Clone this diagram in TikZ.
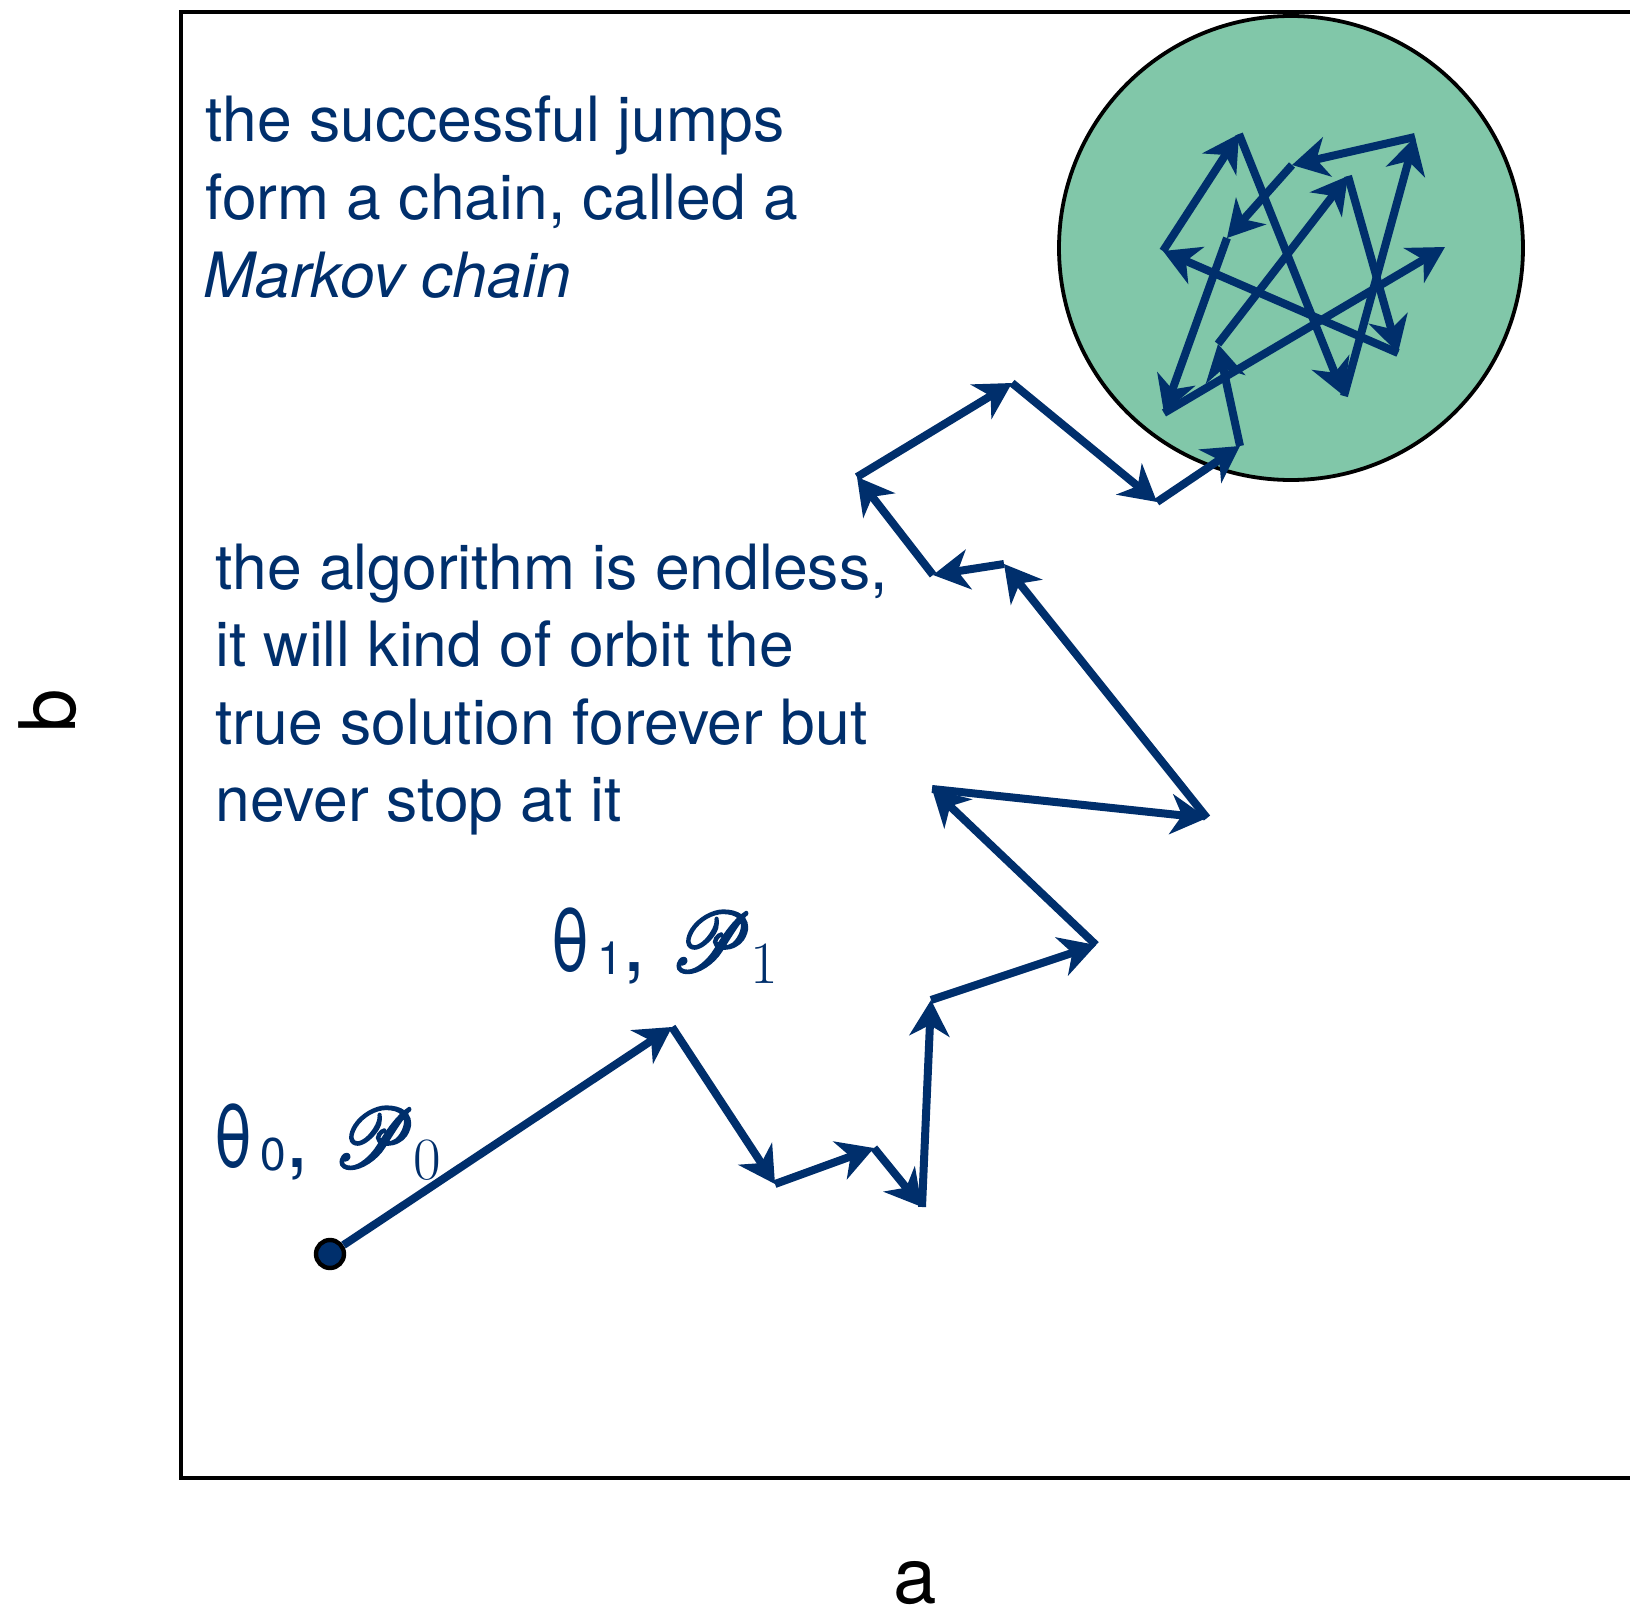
\documentclass[tikz,border=0pt]{standalone}
\usepackage{graphicx}
\usepackage[no-math]{fontspec}
\newfontfamily\hel{TeX Gyre Heros}
\DeclareFontFamily{U}{rsfsx}{\skewchar\font127 }
\DeclareFontShape{U}{rsfsx}{m}{n}{<-> rsfs10}{}
\newcommand\scrP{\scalebox{0.88}[1]{\fontencoding{U}\fontfamily{rsfsx}\fontseries{m}\fontshape{n}\fontsize{42pt}{48pt}\selectfont\special{pdf:literal direct 2 Tr 1.4 w 1 j}P\special{pdf:literal direct 0 Tr 0.4 w}}}
\newcommand\thet{\scalebox{0.8}[1]{θ}}
\newcommand\rmsub[1]{\hspace{2.5pt}\raisebox{-6pt}{\rmfamily\fontsize{30pt}{34pt}\selectfont #1}}
\newcommand\sfsub[1]{\hspace{3.5pt}\raisebox{-1.5pt}{\fontsize{23pt}{26pt}\selectfont #1}}
\usetikzlibrary{arrows.meta}
\definecolor{mcnavy}{RGB}{0,47,108}
\definecolor{mczone}{RGB}{129,199,169}
\begin{document}
\begin{tikzpicture}[x=0.5pt,y=-0.5pt,
  jump/.style={draw=mcnavy, line width=4pt, -{Stealth[length=18pt,width=20pt,inset=5.5pt]}},
  note/.style={text=mcnavy, font=\hel\fontsize{31.2pt}{37pt}\selectfont, anchor=base west, inner sep=0pt},
  axislbl/.style={text=black, font=\hel\fontsize{39pt}{46pt}\selectfont, inner sep=0pt},
  statelbl/.style={text=mcnavy, font=\hel\fontsize{43pt}{50pt}\selectfont, anchor=base west, inner sep=0pt},
  startdot/.style={circle, draw=black, fill=mcnavy, line width=2.2pt, minimum size=14pt, inner sep=0pt},
  zonestyle/.style={circle, draw=black, fill=mczone, line width=1.9pt, minimum size=232pt, inner sep=0pt}
]
\useasboundingbox (0,0) rectangle (1630,1611);
\fill[white] (0,0) rectangle (1630,1611);
\draw[line width=1.9pt] (181,12) rectangle (1660,1478);

\node[zonestyle] (zone) at (1291,248) {};

\node[axislbl, rotate=90, anchor=south] (ylab) at (77,711) {b};
\node[axislbl, anchor=base] (xlab) at (915,1603) {a};

\node[note] (n1a) at (205,142) {the successful jumps};
\node[note] (n1b) at (205,220) {form a chain, called a};
\node[note] (n1c) at (203,298) {\itshape Markov chain};

\node[note] (n2a) at (215,589) {the algorithm is endless,};
\node[note] (n2b) at (215,666) {it will kind of orbit the};
\node[note] (n2c) at (215,744) {true solution forever but};
\node[note] (n2d) at (215,821) {never stop at it};

\node[statelbl] (th0) at (213,1167) {\thet\sfsub{0}, \scrP\rmsub{0}};
\node[statelbl] (th1) at (550,971) {\thet\sfsub{1}, \scrP\rmsub{1}};

\node[startdot] (start) at (330,1254) {};
\coordinate (p1) at (672,1027);
\coordinate (p2) at (775,1184);
\coordinate (p3) at (874,1148);
\coordinate (p4) at (922,1207);
\coordinate (p5) at (931,1000);
\coordinate (p6) at (1096,945);
\coordinate (p7) at (932,789);
\coordinate (p8) at (1207,818);
\coordinate (p9) at (1004,564);
\coordinate (p10) at (933,575);
\coordinate (p11) at (857,477);
\coordinate (p12) at (1012,383);
\coordinate (p13) at (1157,502);
\coordinate (p14) at (1240,446);
\coordinate (p15) at (1218,344);
\coordinate (p16) at (1348,176);
\coordinate (p17) at (1398,353);
\coordinate (p18) at (1163,251);
\coordinate (p19) at (1239,134);
\coordinate (p20) at (1344,396);
\coordinate (p21) at (1415,137);
\coordinate (p22) at (1292,165);
\coordinate (p23) at (1227,238);
\coordinate (p24) at (1164,413);
\coordinate (p25) at (1445,247);

\foreach \a/\b in {start/p1,p1/p2,p2/p3,p3/p4,p4/p5,p5/p6,p6/p7,p7/p8,p8/p9,p9/p10,p10/p11,p11/p12,p12/p13,p13/p14,p14/p15,p15/p16,p16/p17,p17/p18,p18/p19,p19/p20,p20/p21,p21/p22,p22/p23,p23/p24,p24/p25}
  \draw[jump] (\a) -- (\b);
\end{tikzpicture}
\end{document}
